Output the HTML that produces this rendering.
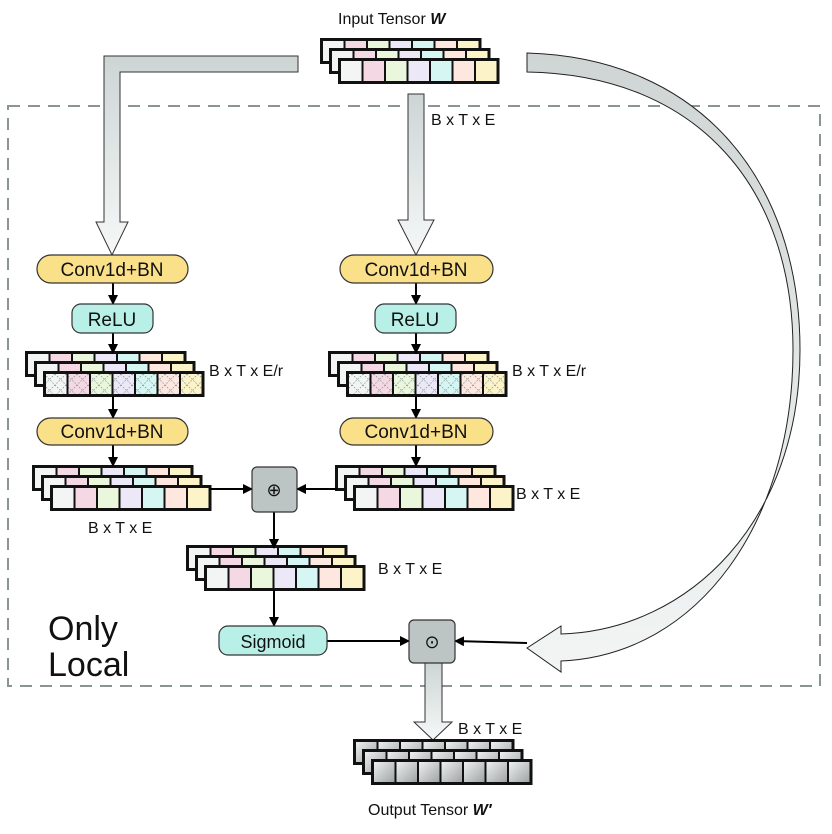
<!DOCTYPE html>
<html><head><meta charset="utf-8"><style>
body{margin:0;background:#fff}
svg{display:block}
text{font-family:"Liberation Sans",sans-serif;fill:#111}
</style></head><body>
<svg id="s" width="832" height="834" viewBox="0 0 832 834" xmlns="http://www.w3.org/2000/svg">
<defs>
<linearGradient id="gv" x1="0" y1="0" x2="0" y2="1"><stop offset="0" stop-color="#cdd5d4"/><stop offset="1" stop-color="#f6f8f8"/></linearGradient>
<linearGradient id="gc" x1="0" y1="0" x2="0" y2="1"><stop offset="0" stop-color="#cfd5d4"/><stop offset="1" stop-color="#f3f5f5"/></linearGradient>
<linearGradient id="gg" x1="0" y1="0" x2="1" y2="1"><stop offset="0" stop-color="#eef0f0"/><stop offset="1" stop-color="#9ea4a4"/></linearGradient>
<marker id="ah" markerWidth="10" markerHeight="10" refX="9" refY="5" orient="auto" markerUnits="userSpaceOnUse"><path d="M0,0 L10,5 L0,10z" fill="#000"/></marker>
<pattern id="hx" width="11" height="11" patternUnits="userSpaceOnUse"><path d="M0,0L11,11M11,0L0,11" stroke="#8a9a98" stroke-width="0.8" stroke-dasharray="1.5,1.5"/></pattern>
</defs>
<rect x="8" y="106" width="812" height="580" fill="none" stroke="#8a9593" stroke-width="2" stroke-dasharray="12,8"/>
<path d="M298,56 L298,72 L120,72 L120,222 L128,222 L112,255 L96,222 L104,222 L104,56 Z" fill="url(#gv)" stroke="#333" stroke-width="1"/>
<path d="M408,94 L424,94 L424,220 L434,220 L416,255 L398,220 L408,220 Z" fill="url(#gv)" stroke="#333" stroke-width="1"/>
<path d="M425,663 L442,663 L442,722 L452,722 L433,740 L414,722 L425,722 Z" fill="url(#gv)" stroke="#333" stroke-width="1"/>
<path d="M527,53 C700,58 800,180 800,350 C800,520 690,630 561,634 L561,626 L527,648 L561,672 L561,661 C700,655 793,520 793,350 C793,190 700,75 527,72 Z" fill="url(#gc)" stroke="#222" stroke-width="1"/>
<g id="g"></g>
<g stroke="#000" stroke-width="2" fill="none" marker-end="url(#ah)">
<line x1="113" y1="283" x2="113" y2="304"/><line x1="113" y1="333" x2="113" y2="353"/><line x1="113" y1="396" x2="113" y2="418"/><line x1="113" y1="445" x2="113" y2="466"/>
<line x1="416" y1="283" x2="416" y2="304"/><line x1="416" y1="333" x2="416" y2="353"/><line x1="416" y1="396" x2="416" y2="418"/><line x1="416" y1="445" x2="416" y2="466"/>
<line x1="209" y1="489" x2="252" y2="489"/><line x1="337" y1="489" x2="297" y2="489"/>
<line x1="274" y1="512" x2="274" y2="548"/><line x1="274" y1="590" x2="274" y2="626"/>
<line x1="327" y1="641" x2="409" y2="641"/><line x1="527" y1="643" x2="455" y2="641"/>
</g>
<g stroke="#333" stroke-width="1.2">
<rect x="37" y="255" width="151" height="28" rx="14" fill="#fbe08a"/><rect x="340" y="255" width="153" height="28" rx="14" fill="#fbe08a"/>
<rect x="37" y="418" width="151" height="27" rx="13.5" fill="#fbe08a"/><rect x="340" y="418" width="153" height="27" rx="13.5" fill="#fbe08a"/>
<rect x="72" y="304" width="81" height="29" rx="9" fill="#b8f0e8"/><rect x="375" y="304" width="81" height="29" rx="9" fill="#b8f0e8"/>
<rect x="219" y="626" width="108" height="29" rx="9" fill="#b8f0e8"/>
<rect x="252" y="467" width="45" height="45" rx="5" fill="#bcc5c4"/><rect x="409" y="620" width="46" height="43" rx="5" fill="#bcc5c4"/>
</g>
<g font-size="19" text-anchor="middle">
<text x="112" y="276">Conv1d+BN</text><text x="416" y="276">Conv1d+BN</text>
<text x="112" y="438">Conv1d+BN</text><text x="416" y="438">Conv1d+BN</text>
<text x="112" y="326">ReLU</text><text x="415" y="326">ReLU</text>
<text x="273" y="648" font-size="18">Sigmoid</text>
<text x="274" y="496" font-size="18">⊕</text><text x="432" y="648" font-size="18">⊙</text>
</g>
<g font-size="16">
<text x="338" y="24">Input Tensor <tspan font-weight="bold" font-style="italic">W</tspan></text>
<text x="368" y="815">Output Tensor <tspan font-weight="bold" font-style="italic">W′</tspan></text>
<text x="431" y="125">B x T x E</text>
<text x="209" y="376">B x T x E/r</text><text x="512" y="376">B x T x E/r</text>
<text x="88" y="533">B x T x E</text><text x="516" y="499">B x T x E</text>
<text x="378" y="574">B x T x E</text><text x="458" y="734">B x T x E</text>
</g>
<text x="48" y="640" font-size="34">Only</text><text x="48" y="676" font-size="34">Local</text>
</svg>
<script>
var cols=["#f3f5f4","#f4d9e4","#eaf7dd","#ece8f7","#d6f6f3","#fde7de","#fcf3c8"];
var g=document.getElementById("g"),h="";
function T(fx,fy,hatch,gray){
  for(var L=2;L>=0;L--){
    var x=fx-9*L,y=fy-10*L,w=22.5;
    h+='<rect x="'+(x-2)+'" y="'+(y-2)+'" width="'+(7*w+4)+'" height="26" fill="#111"/>';
    for(var i=0;i<7;i++){
      var f=gray?"url(#gg)":cols[i];
      h+='<rect x="'+(x+i*w+1)+'" y="'+(y+1)+'" width="'+(w-2)+'" height="20" fill="'+f+'"/>';
      if(hatch&&L==0)h+='<rect x="'+(x+i*w+1)+'" y="'+(y+1)+'" width="'+(w-2)+'" height="20" fill="url(#hx)"/>';
    }
  }
}
T(340,60,0,0);T(45,373,1,0);T(348,373,1,0);T(52,487,0,0);T(355,487,0,0);T(206,567,0,0);T(373,761,0,1);
g.innerHTML=h;
</script>
</body></html>
